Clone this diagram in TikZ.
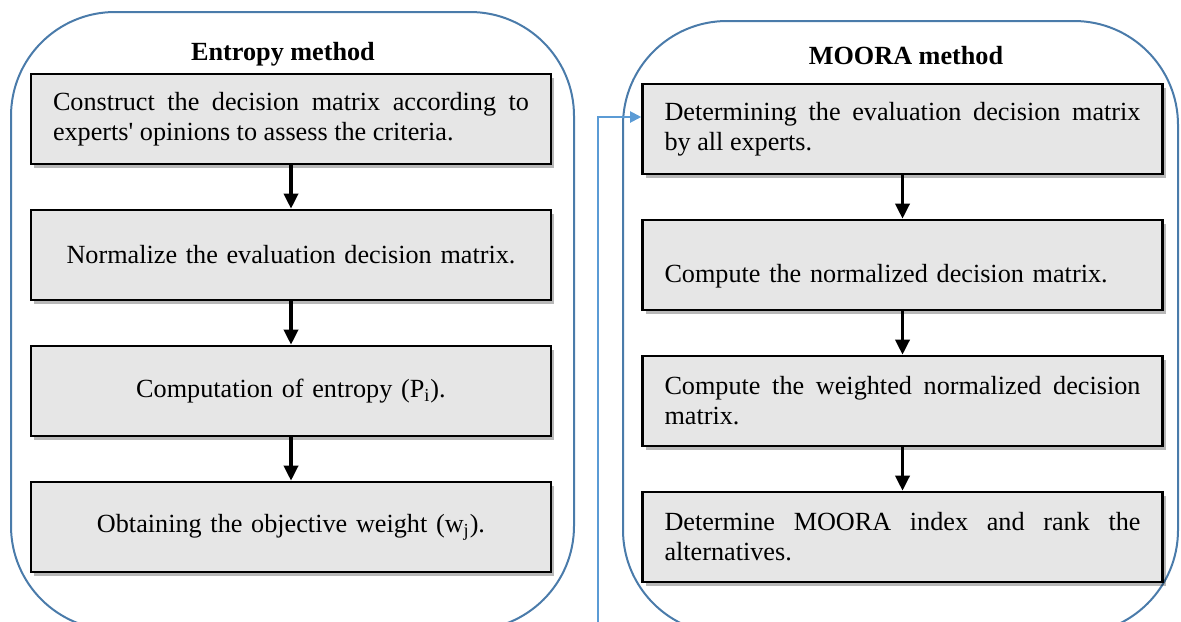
\documentclass[tikz,border=0pt]{standalone}
\usepackage{fontspec}
\setmainfont{Liberation Serif}
\newfontfamily\plainserif{Liberation Serif}
\usetikzlibrary{arrows.meta,shadows,positioning,calc}
\definecolor{contblue}{HTML}{4A7BAA}
\definecolor{linkblue}{HTML}{5B9BD5}
\definecolor{boxgray}{HTML}{E6E6E6}
\tikzset{
  container/.style={draw=contblue, line width=1pt, rounded corners=52pt},
  stepbox/.style={draw=black, line width=1.3pt, fill=boxgray,
    minimum width=260pt, minimum height=45pt, inner sep=0pt,
    text width=238pt, font=\fontsize{13.1}{15}\selectfont,
    drop shadow={shadow xshift=1.6pt, shadow yshift=-1.8pt, fill=black, opacity=0.28}},
  titletext/.style={font=\fontsize{13.1}{15}\selectfont\bfseries},
  flow/.style={line width=1.7pt, -{Triangle[length=7.5pt,width=7pt]}},
  link/.style={draw=linkblue, line width=1pt, -{Triangle[length=5.5pt,width=5.5pt]}}
}
\begin{document}
\begin{tikzpicture}[x=0.5pt,y=-0.5pt]
\useasboundingbox (0,0) rectangle (1181,621);
\clip (0,0) rectangle (1181,621);
\hyphenpenalty=10000
% containers
\draw[container] (11,12) rectangle (574,630);
\draw[container] (623,21) rectangle (1178,634);
% titles
\node[titletext] (t1) at (283,54) {Entropy method};
\node[titletext] (t2) at (906,56) {MOORA method};
% left boxes
\node[stepbox, align=justify] (l1) at (291,119) {Construct the decision matrix according to experts{\plainserif'} opinions to assess the criteria.};
\node[stepbox, align=center] (l2) at (291,255) {Normalize the evaluation decision matrix.};
\node[stepbox, align=center] (l3) at (291,391) {Computation of entropy (P\textsubscript{i}).};
\node[stepbox, align=center] (l4) at (291,527) {Obtaining the objective weight (w\textsubscript{j}).};
% right boxes
\node[stepbox, align=justify] (r1) at (902.5,129) {Determining the evaluation decision matrix by all experts.};
\node[stepbox, align=left, text height=20pt, text depth=3pt] (r2) at (902.5,265) {Compute the normalized decision matrix.};
\node[stepbox, align=justify] (r3) at (902.5,401) {Compute the weighted normalized decision matrix.};
\node[stepbox, align=justify] (r4) at (902.5,537) {Determine MOORA index and rank the alternatives.};
% arrows
\draw[flow] (l1) -- (l2);
\draw[flow] (l2) -- (l3);
\draw[flow] (l3) -- (l4);
\draw[flow] (r1) -- (r2);
\draw[flow] (r2) -- (r3);
\draw[flow] (r3) -- (r4);
% link
\coordinate (bstart) at (598,625);
\draw[link] (bstart) |- ([yshift=6pt]r1.west);
\end{tikzpicture}
\end{document}
